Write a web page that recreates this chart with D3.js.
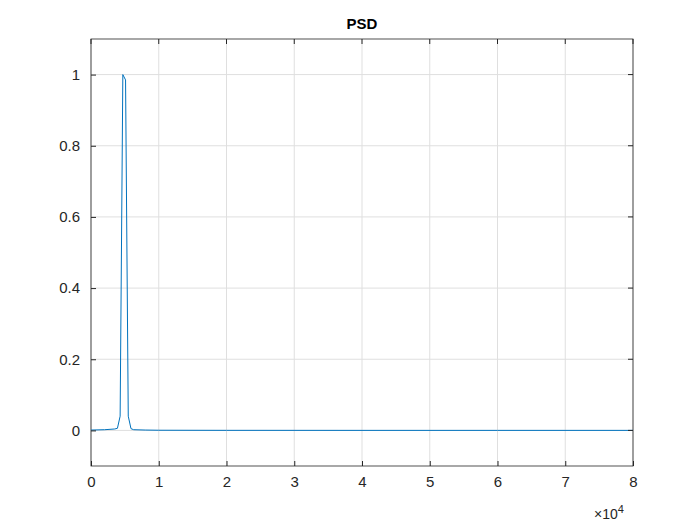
<!DOCTYPE html>
<html><head><meta charset="utf-8">
<script src="https://cdn.jsdelivr.net/npm/d3@7"></script>
<style>body{margin:0;background:#fff}svg{font-family:Arial,"Liberation Sans",sans-serif}</style>
</head><body><div id="chart"></div>
<script>
const freq = [0, 2000, 3500, 3900, 4300, 4700, 5100, 5500, 5900, 6300, 8000, 10000, 20000, 40000, 60000, 80000];
const psd = [0.001, 0.002, 0.004, 0.006, 0.04, 1.0, 0.985, 0.04, 0.005, 0.002, 0.001, 0.0005, 0.0002, 0.0001, 0.0001, 0.0001];
const xTicks = [0, 1, 2, 3, 4, 5, 6, 7, 8];
const yTicks = [0, 0.2, 0.4, 0.6, 0.8, 1];

const width = 700, height = 525;
const m = {left: 91, right: 67, top: 39, bottom: 59};
const svg = d3.select('#chart').append('svg').attr('width', width).attr('height', height);
const x = d3.scaleLinear().domain([0, 80000]).range([m.left, width - m.right]);
const y = d3.scaleLinear().domain([-0.1, 1.1]).range([height - m.bottom, m.top]);

const grid = svg.append('g').attr('stroke', '#dfdfdf').attr('stroke-width', 1);
xTicks.forEach(t => grid.append('line').attr('x1', x(t * 1e4)).attr('x2', x(t * 1e4)).attr('y1', y(-0.1)).attr('y2', y(1.1)));
yTicks.forEach(t => grid.append('line').attr('x1', x(0)).attr('x2', x(80000)).attr('y1', y(t)).attr('y2', y(t)));

svg.append('rect').attr('x', m.left).attr('y', m.top)
  .attr('width', width - m.left - m.right).attr('height', height - m.top - m.bottom)
  .attr('fill', 'none').attr('stroke', '#262626').attr('stroke-width', 0.8);

svg.append('path').datum(freq.map((f, i) => [f, psd[i]]))
  .attr('d', d3.line().x(d => x(d[0])).y(d => y(d[1])))
  .attr('fill', 'none').attr('stroke', '#0072bd').attr('stroke-width', 1);

const xAxis = svg.append('g').attr('transform', `translate(0,${height - m.bottom})`)
  .call(d3.axisBottom(x).tickValues(xTicks.map(t => t * 1e4)).tickFormat(d => d / 1e4).tickSize(-5).tickPadding(10));
const yAxis = svg.append('g').attr('transform', `translate(${m.left},0)`)
  .call(d3.axisLeft(y).tickValues(yTicks).tickFormat(d => d).tickSize(-5).tickPadding(11));
[xAxis, yAxis].forEach(a => {
  a.select('.domain').remove();
  a.selectAll('line').attr('stroke', '#262626');
  a.selectAll('text').attr('fill', '#262626').style('font-size', '15px');
});
// top/right ticks
xTicks.forEach(t => svg.append('line').attr('x1', x(t * 1e4)).attr('x2', x(t * 1e4)).attr('y1', m.top).attr('y2', m.top + 5).attr('stroke', '#262626'));
yTicks.forEach(t => svg.append('line').attr('x1', width - m.right).attr('x2', width - m.right - 5).attr('y1', y(t)).attr('y2', y(t)).attr('stroke', '#262626'));

const ex = svg.append('text').attr('x', 594).attr('y', 519).attr('fill', '#262626').style('font-size', '14px');
ex.append('tspan').text('×10');
ex.append('tspan').attr('dy', -6).style('font-size', '11px').text('4');

svg.append('text').attr('x', (m.left + width - m.right) / 2).attr('y', 29)
  .attr('text-anchor', 'middle').attr('font-weight', 'bold').style('font-size', '15px').attr('fill', '#000').text('PSD');
</script></body></html>
